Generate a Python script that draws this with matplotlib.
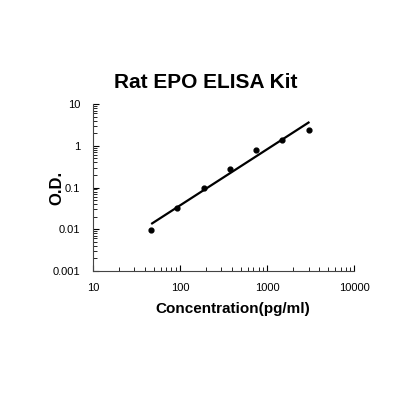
import numpy as np
import matplotlib.pyplot as plt
from matplotlib.ticker import LogLocator, FixedFormatter, FixedLocator

plt.rcParams['font.family'] = ['Liberation Sans', 'DejaVu Sans']

####################

conc = [46.875, 93.75, 187.5, 375, 750, 1500, 3000]
od = [0.0098, 0.033, 0.10, 0.28, 0.80, 1.40, 2.45]

xticks = [10, 100, 1000, 10000]
xlabels = ['10', '100', '1000', '10000']
yticks = [0.001, 0.01, 0.1, 1, 10]
ylabels = ['0.001', '0.01', '0.1', '1', '10']

# trendline in log-log
k, b = np.polyfit(np.log10(conc), np.log10(od), 1)
xfit = np.array([48, 3000])
yfit = 10 ** (k * np.log10(xfit) + b)

####################

fig = plt.figure(figsize=(4.2, 4.2), dpi=100)
ax = fig.add_axes([0.221, 0.355, 0.622, 0.397])

ax.plot(xfit, yfit, color='black', lw=1.6)
ax.scatter(conc, od, s=12, color='black', zorder=3)

ax.set_xscale('log')
ax.set_yscale('log')
ax.set_xlim(10, 10000)
ax.set_ylim(0.001, 10)

ax.xaxis.set_major_locator(FixedLocator(xticks))
ax.xaxis.set_major_formatter(FixedFormatter(xlabels))
ax.xaxis.set_minor_locator(LogLocator(base=10, subs=np.arange(2, 10)))
ax.yaxis.set_major_locator(FixedLocator(yticks))
ax.yaxis.set_major_formatter(FixedFormatter(ylabels))
ax.yaxis.set_minor_locator(LogLocator(base=10, subs=np.arange(2, 10)))

ax.tick_params(which='both', direction='in', labelsize=8, colors='black')
ax.tick_params(which='major', length=4, width=0.8, pad=9)
ax.tick_params(which='minor', length=3, width=0.6)

for s in ['top', 'right']:
    ax.spines[s].set_visible(False)
for s in ['left', 'bottom']:
    ax.spines[s].set_color('#444444')

# titles placed by hand, like the original layout
fig.text(0.49, 1 - 82 / 420, 'Rat EPO ELISA Kit', fontsize=15, fontweight='bold',
         ha='center', va='center')
fig.text(233 / 420, 1 - 309 / 420, 'Concentration(pg/ml)', fontsize=11,
         fontweight='bold', ha='center', va='center')
fig.text(57 / 420, 1 - 188 / 420, 'O.D.', fontsize=12, fontweight='bold',
         rotation=90, ha='center', va='center')

fig.savefig('out.png', dpi=100, facecolor='white')
